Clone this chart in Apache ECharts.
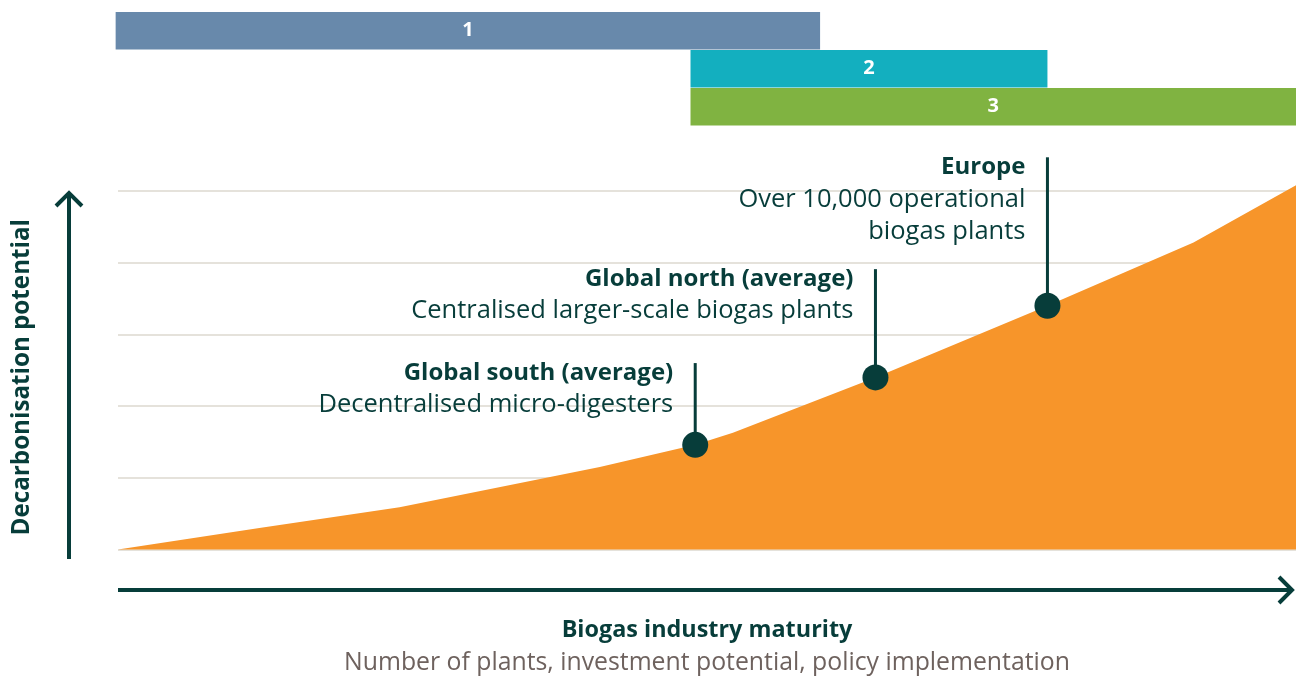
<!DOCTYPE html>
<html>
<head>
<meta charset="utf-8">
<title>Biogas industry maturity</title>
<script src="https://cdn.jsdelivr.net/npm/echarts@6/dist/echarts.min.js"></script>
<style>
  html, body { margin: 0; padding: 0; background: #fff; }
  #main { width: 1296px; height: 680px; }
</style>
</head>
<body>
<div id="main"></div>
<script>
// curve of decarbonisation potential vs industry maturity (x 0-100, y in grid units)
var curveX = [0, 12.0, 23.9, 40.9, 49.0, 52.2, 64.3, 78.9, 91.3, 100];
var curveY = [0, 0.30, 0.59, 1.15, 1.46, 1.63, 2.40, 3.40, 4.28, 5.08];

// markers on the curve
var markerTitle = ['Global south (average)', 'Global north (average)', 'Europe'];
var markerText = ['Decentralised micro-digesters', 'Centralised larger-scale biogas plants', 'Over 10,000 operational\nbiogas plants'];
var markerX = [49.0, 64.3, 78.9];
var markerY = [1.46, 2.40, 3.40];
var leaderTop = [2.60, 3.91, 5.47];

// phase bars on top
var phaseLabel = ['1', '2', '3'];
var phaseStart = [-0.2, 48.6, 48.6];
var phaseEnd = [59.6, 78.9, 100];
var phaseColor = ['#6889ab', '#13afbf', '#80b341'];

var dark = '#073d3a';
var font = '"Open Sans", Lato, sans-serif';

var chartDom = document.getElementById('main');
var myChart = echarts.init(chartDom);

var option = {
  animation: false,
  grid: [
    {left: 118, right: 0, top: 191, bottom: 127},
    {left: 118, right: 0, top: 12, height: 114}
  ],
  xAxis: [
    {
      type: 'value', gridIndex: 0, min: 0, max: 100,
      axisLine: {show: false}, axisTick: {show: false}, axisLabel: {show: false}, splitLine: {show: false},
      name: '{b|Biogas industry maturity}\n{s|Number of plants, investment potential, policy implementation}',
      nameLocation: 'middle',
      nameGap: 65,
      nameTextStyle: {
        rich: {
          b: {fontFamily: font, fontWeight: 'bold', fontSize: 23.4, color: dark, lineHeight: 32},
          s: {fontFamily: font, fontSize: 24.8, color: '#6e625e', lineHeight: 32}
        }
      }
    },
    {
      type: 'value', gridIndex: 1, min: 0, max: 100, show: false
    }
  ],
  yAxis: [
    {
      type: 'value', gridIndex: 0, min: 0, max: 5, interval: 1,
      axisLine: {show: false}, axisTick: {show: false}, axisLabel: {show: false},
      splitLine: {lineStyle: {color: '#ddd8cf', width: 1.5}},
      name: 'Decarbonisation potential',
      nameLocation: 'middle',
      nameRotate: 90,
      nameGap: 84,
      nameTextStyle: {fontFamily: font, fontWeight: 'bold', fontSize: 24.2, color: dark, padding: [0, 14, 0, 0]}
    },
    {
      type: 'category', gridIndex: 1, data: phaseLabel, inverse: true, show: false
    }
  ],
  graphic: [
    // y arrow
    {type: 'line', shape: {x1: 69, y1: 559, x2: 69, y2: 194}, style: {stroke: dark, lineWidth: 4}},
    {type: 'polyline', shape: {points: [[56, 206], [69, 193], [82, 206]]}, style: {stroke: dark, lineWidth: 4, fill: null}},
    // x arrow
    {type: 'line', shape: {x1: 118, y1: 590, x2: 1290, y2: 590}, style: {stroke: dark, lineWidth: 4}},
    {type: 'polyline', shape: {points: [[1279, 577], [1292, 590], [1279, 603]]}, style: {stroke: dark, lineWidth: 4, fill: null}}
  ],
  series: [
    {
      type: 'line',
      xAxisIndex: 0, yAxisIndex: 0,
      data: curveX.map(function (x, i) { return [x, curveY[i]]; }),
      showSymbol: false,
      clip: false,
      lineStyle: {width: 0},
      areaStyle: {color: '#f7952a', opacity: 1},
      z: 2
    },
    {
      type: 'custom',
      xAxisIndex: 0, yAxisIndex: 0,
      clip: false,
      data: markerX.map(function (x, i) { return [x, markerY[i], leaderTop[i], i]; }),
      renderItem: function (params, api) {
        var i = api.value(3);
        var p = api.coord([api.value(0), api.value(1)]);
        var t = api.coord([api.value(0), api.value(2)]);
        return {
          type: 'group',
          children: [
            {
              type: 'line',
              shape: {x1: p[0], y1: p[1], x2: t[0], y2: t[1]},
              style: {stroke: dark, lineWidth: 3}
            },
            {
              type: 'circle',
              shape: {cx: p[0], cy: p[1], r: 13},
              style: {fill: dark}
            },
            {
              type: 'text',
              x: t[0] - 22,
              y: t[1] - 6,
              style: {
                text: '{b|' + markerTitle[i] + '}\n{r|' + markerText[i] + '}',
                align: 'right',
                verticalAlign: 'top',
                rich: {
                  b: {fontFamily: font, fontWeight: 'bold', fontSize: 24, fill: dark, lineHeight: 32, align: 'right'},
                  r: {fontFamily: font, fontSize: 25.5, fill: dark, lineHeight: 32, align: 'right'}
                }
              }
            }
          ]
        };
      },
      z: 5
    },
    {
      type: 'custom',
      xAxisIndex: 1, yAxisIndex: 1,
      clip: false,
      data: phaseLabel.map(function (l, i) { return [phaseStart[i], phaseEnd[i], i]; }),
      renderItem: function (params, api) {
        var i = api.value(2);
        var a = api.coord([api.value(0), i]);
        var b = api.coord([api.value(1), i]);
        var h = api.size([0, 1])[1];
        return {
          type: 'rect',
          shape: {x: a[0], y: a[1] - h / 2, width: b[0] - a[0], height: h - 0.5},
          style: {fill: phaseColor[i]},
          textContent: {
            style: {text: phaseLabel[i], fill: '#fff', font: 'bold 20px ' + font}
          },
          textConfig: {position: 'inside'}
        };
      }
    }
  ]
};

myChart.setOption(option);
</script>
</body>
</html>
